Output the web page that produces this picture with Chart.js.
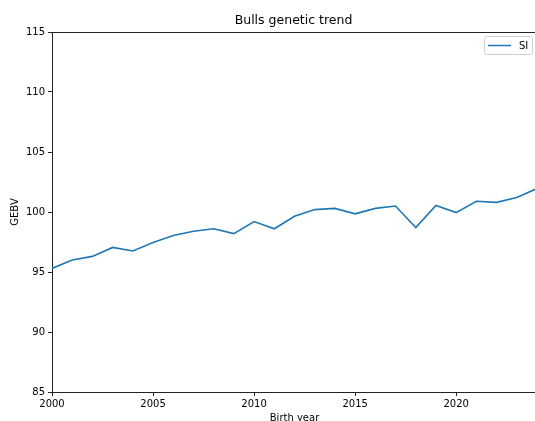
<!DOCTYPE html>
<html>
<head>
<meta charset="utf-8">
<script src="https://cdn.jsdelivr.net/npm/chart.js@4"></script>
<style>
  html, body { margin: 0; padding: 0; background: #fff; overflow: hidden; }
  canvas { display: block; }
</style>
</head>
<body>
<canvas id="c" width="540" height="421"></canvas>
<script>
// Birth years and the SI genetic trend (GEBV) for bulls
const years = [2000, 2001, 2002, 2003, 2004, 2005, 2006, 2007, 2008, 2009, 2010, 2011,
               2012, 2013, 2014, 2015, 2016, 2017, 2018, 2019, 2020, 2021, 2022, 2023, 2024];
const siValues = [95.3, 96.0, 96.3, 97.05, 96.75, 97.45, 98.05, 98.4, 98.6, 98.2, 99.2, 98.6,
                  99.65, 100.2, 100.3, 99.85, 100.3, 100.5, 98.7, 100.55, 99.95, 100.9, 100.8, 101.2, 101.95];
const xTicks = [2000, 2005, 2010, 2015, 2020];
const yTicks = [85, 90, 95, 100, 105, 110, 115];

const FONT = "'DejaVu Sans', sans-serif";
const AXIS_COLOR = '#222';

// Title, top spine and the boxed legend inside the plot
const decorations = {
  id: 'decorations',
  afterDraw(chart) {
    const { ctx, chartArea } = chart;
    ctx.save();
    // top and right spines
    ctx.strokeStyle = AXIS_COLOR;
    ctx.lineWidth = 1;
    ctx.beginPath();
    ctx.moveTo(chartArea.left, chartArea.top + 0.5);
    ctx.lineTo(chartArea.right, chartArea.top + 0.5);
    ctx.lineTo(chartArea.right, chartArea.bottom);
    ctx.stroke();

    // title
    ctx.fillStyle = '#000';
    ctx.font = '12.5px ' + FONT;
    ctx.textAlign = 'center';
    ctx.textBaseline = 'middle';
    ctx.fillText('Bulls genetic trend', (chartArea.left + chartArea.right) / 2 - 1, 21);

    // legend
    const ds = chart.data.datasets[0];
    const bx = 484.5, by = 36.5, bw = 48, bh = 18;
    ctx.fillStyle = 'rgba(255,255,255,0.8)';
    ctx.strokeStyle = '#d0d0d0';
    ctx.lineWidth = 1;
    ctx.beginPath();
    ctx.roundRect(bx, by, bw, bh, 2);
    ctx.fill();
    ctx.stroke();
    ctx.strokeStyle = ds.borderColor;
    ctx.lineWidth = 1.5;
    ctx.beginPath();
    ctx.moveTo(488, 45.5);
    ctx.lineTo(511, 45.5);
    ctx.stroke();
    ctx.fillStyle = '#000';
    ctx.font = '10px ' + FONT;
    ctx.textAlign = 'left';
    ctx.fillText(ds.label, 519, 46);
    ctx.restore();
  }
};

new Chart(document.getElementById('c'), {
  type: 'line',
  data: {
    datasets: [{
      label: 'SI',
      data: years.map((y, i) => ({ x: y, y: siValues[i] })),
      borderColor: '#1f77b4',
      borderWidth: 1.6,
      pointRadius: 0,
      tension: 0,
      fill: false
    }]
  },
  options: {
    responsive: false,
    animation: false,
    devicePixelRatio: 1,
    layout: { padding: { left: 0, top: 32, right: 3, bottom: 0 } },
    plugins: {
      legend: { display: false },
      title: { display: false },
      tooltip: { enabled: false }
    },
    scales: {
      x: {
        type: 'linear',
        min: 2000,
        max: 2024,
        afterBuildTicks: s => { s.ticks = xTicks.map(v => ({ value: v })); },
        afterFit: s => { s.height = 29; },
        grid: { display: true, drawOnChartArea: false, drawTicks: true, tickLength: 4, color: AXIS_COLOR },
        border: { display: true, color: AXIS_COLOR, width: 1 },
        ticks: { color: '#000', font: { family: FONT, size: 10 }, padding: 2, maxRotation: 0, callback: v => String(v) },
        title: { display: true, text: 'Birth year', color: '#000', font: { family: FONT, size: 10 }, padding: { top: 0, bottom: -3 } }
      },
      y: {
        min: 85,
        max: 115,
        afterBuildTicks: s => { s.ticks = yTicks.map(v => ({ value: v })); },
        afterFit: s => { s.width = 52; },
        grid: { display: true, drawOnChartArea: false, drawTicks: true, tickLength: 4, color: AXIS_COLOR },
        border: { display: true, color: AXIS_COLOR, width: 1 },
        ticks: { color: '#000', font: { family: FONT, size: 10 }, padding: 3 },
        title: { display: true, text: 'GEBV', color: '#000', font: { family: FONT, size: 10 }, padding: { top: 9, bottom: 0 } }
      }
    }
  },
  plugins: [decorations]
});
</script>
</body>
</html>
